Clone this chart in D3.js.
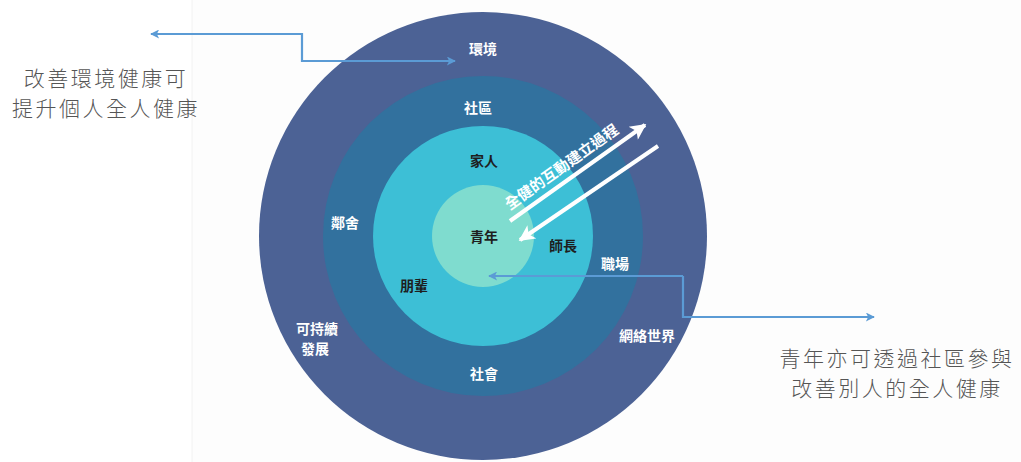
<!DOCTYPE html>
<html><head><meta charset="utf-8">
<script src="https://cdn.jsdelivr.net/npm/d3@7"></script>
<style>body{margin:0;background:#fff}svg{display:block}</style>
</head><body>
<svg id="chart" width="1021" height="462"></svg>
<script>
// ---- data ----
const ringNames  = ["青年", "家人", "社區", "環境"];
const ringRadius = [51, 110, 160, 224];
const ringColors = ["#7fdccf", "#3dbfd6", "#32719e", "#4c6295"];
const labelTexts = ["環境", "社區", "家人", "青年", "師長", "朋輩", "鄰舍", "職場", "可持續", "發展", "網絡世界", "社會"];
const labelDark  = [false, false, true, true, true, true, false, false, false, false, false, false];
const arrowText  = "全健的互動建立過程";
const noteLeft   = ["改善環境健康可", "提升個人全人健康"];
const noteRight  = ["青年亦可透過社區參與", "改善別人的全人健康"];

// ---- layout ----
const cx = 483, cy = 236;
const labelPos = [[0,-188],[-5,-129],[1,-76],[1,0],[80,9],[-69,49],[-138,-14],[132,27],[-166,92],[-168,112],[164,99],[1,137]];
const svg = d3.select("#chart");
const font = "'Noto Sans CJK TC','Noto Sans CJK SC',sans-serif";
const rScale = d3.scaleLinear().domain([0, 224]).range([0, 224]);

// faint page split
svg.append("rect").attr("x",192).attr("y",0).attr("width",829).attr("height",462).attr("fill","#fdfdfd");
svg.append("line").attr("x1",192).attr("x2",192).attr("y1",0).attr("y2",462).attr("stroke","#f2f2f2");

const defs = svg.append("defs");
function marker(id, color, w, h){
  defs.append("marker").attr("id",id).attr("viewBox","0 0 10 10").attr("refX",9).attr("refY",5)
    .attr("markerWidth",w).attr("markerHeight",h).attr("orient","auto").attr("markerUnits","userSpaceOnUse")
    .append("path").attr("d","M0,0 L10,5 L0,10 L2.5,5 Z").attr("fill",color);
}
marker("blueHead", "#5b9bd5", 11, 9);
marker("whiteHead", "#ffffff", 17, 16);

// rings
const ringData = ringNames.map((n,i)=>({name:n, r:ringRadius[i], color:ringColors[i]})).reverse();
svg.selectAll("circle.ring").data(ringData).join("circle").attr("class","ring")
  .attr("cx",cx).attr("cy",cy).attr("r",d=>rScale(d.r)).attr("fill",d=>d.color);

// white arrows
const line = d3.line();
svg.append("path").attr("d", line([[510,221],[645,125]])).attr("stroke","#fff").attr("stroke-width",4)
  .attr("fill","none").attr("marker-end","url(#whiteHead)");
svg.append("path").attr("d", line([[658,146],[520,240]])).attr("stroke","#fff").attr("stroke-width",4)
  .attr("fill","none").attr("marker-end","url(#whiteHead)");
const ang = Math.atan2(125-221, 645-510)*180/Math.PI;
svg.append("text").attr("transform",`translate(561,166) rotate(${ang})`)
  .attr("text-anchor","middle").attr("dominant-baseline","central")
  .attr("font-family",font).attr("font-weight",700).attr("font-size",15).attr("fill","#fff")
  .text(arrowText);

// ring labels
svg.selectAll("text.lab").data(labelTexts).join("text").attr("class","lab")
  .attr("x",(d,i)=>cx+labelPos[i][0]).attr("y",(d,i)=>cy+labelPos[i][1])
  .attr("text-anchor","middle").attr("dominant-baseline","central")
  .attr("font-family",font).attr("font-weight",700).attr("font-size",14)
  .attr("fill",(d,i)=>labelDark[i]?"#1e1e1e":"#ffffff").text(d=>d);

// blue connector arrows
svg.append("path").attr("d", line([[300,34],[151,34]])).attr("stroke","#5b9bd5").attr("stroke-width",2.2)
  .attr("fill","none").attr("marker-end","url(#blueHead)");
svg.append("path").attr("d", line([[300,34],[302,34],[302,61],[455,61]])).attr("stroke","#5b9bd5").attr("stroke-width",2.2)
  .attr("fill","none").attr("marker-end","url(#blueHead)");
svg.append("path").attr("d", line([[683,276],[489,276]])).attr("stroke","#5b9bd5").attr("stroke-width",2.2)
  .attr("fill","none").attr("marker-end","url(#blueHead)");
svg.append("path").attr("d", line([[683,276],[683,317],[874,317]])).attr("stroke","#5b9bd5").attr("stroke-width",2.2)
  .attr("fill","none").attr("marker-end","url(#blueHead)");

// notes
function note(lines, x, y0){
  svg.append("g").selectAll("text").data(lines).join("text")
    .attr("x",x).attr("y",(d,i)=>y0+i*30).attr("text-anchor","middle").attr("dominant-baseline","central")
    .attr("font-family",font).attr("font-weight",300).attr("font-size",21).attr("letter-spacing",2.5)
    .attr("fill","#555").text(d=>d);
}
note(noteLeft, 106, 77);
note(noteRight, 897, 357);
</script>
</body></html>
